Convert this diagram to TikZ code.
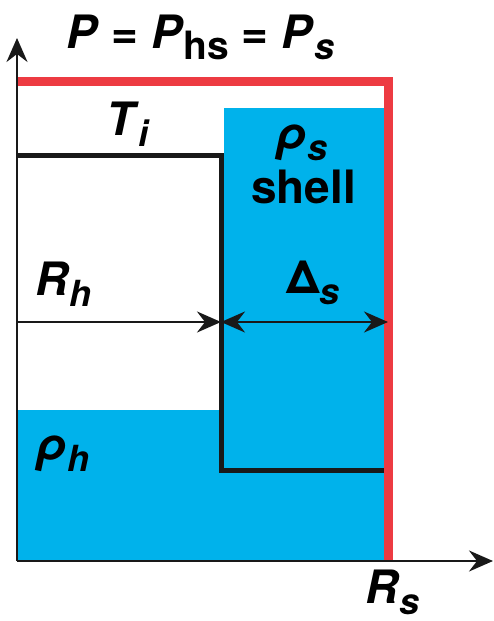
\documentclass[tikz,border=0pt]{standalone}
\usepackage{fontspec}
\setmainfont{TeX Gyre Heros}
\usetikzlibrary{arrows.meta, positioning}
\definecolor{shellblue}{RGB}{0,178,235}
\definecolor{surfred}{RGB}{237,59,66}
\newcommand{\vb}[1]{\textbf{\textit{#1}}}
\newcommand{\vsub}[1]{\raisebox{-0.25em}{\fontsize{36}{36}\selectfont #1}}

\begin{document}
\begin{tikzpicture}[x=1pt, y=-1pt, >={Stealth[length=24pt, width=21pt, inset=8pt]},
        lbl/.style={font=\fontsize{46}{46}\selectfont\bfseries, inner sep=0pt, anchor=base west},
        prof/.style={draw=black!90, line width=5pt},
        axis/.style={draw=black!90, line width=2.5pt},
        dim/.style={draw=black!90, line width=2.5pt}]
        \useasboundingbox (0,0) rectangle (494,621);

        \coordinate (o) at (17,561);
        \coordinate (ytop) at (17,38);
        \coordinate (xend) at (493,561);
        \coordinate (rh0) at (17,322);
        \coordinate (rh1) at (221,322);
        \coordinate (rs1) at (388,322);

        % densities
        \fill[shellblue] (224,108) rectangle (384,561);
        \fill[shellblue] (17,410) rectangle (224,561);

        % surface and temperature
        \draw[surfred, line width=9pt] (17,81) -- (388,81) -- (388,561);
        \draw[prof] (17,155) -| (221,470) -- (384,470);

        \draw[axis, ->] (o) -- (ytop);
        \draw[axis, ->] (o) -- (xend);
        \draw[dim, ->] (rh0) -- (rh1);
        \draw[dim, <->] (rh1) -- (rs1);

        \node (ttl) [lbl] at (66,48) {\vb{P} = \vb{P}\raisebox{-0.25em}{\fontsize{39}{39}\selectfont hs} = \vb{P}\vsub{\vb{s}}};
        \node (ti) [lbl] at (106,135) {\vb{T}\vsub{\vb{i}}};
        \node (rhos) [lbl] at (276,149) {\vb{ρ}\vsub{\vb{s}}};
        \node (shl) [lbl] at (251,203) {shell};
        \node (rh) [lbl] at (35,295) {\vb{R}\vsub{\vb{h}}};
        \node (dels) [lbl] at (286,293) {Δ\vsub{\vb{s}}};
        \node (rhoh) [lbl] at (36,460) {\vb{ρ}\vsub{\vb{h}}};
        \node (rs) [lbl] at (365,603) {\vb{R}\vsub{\vb{s}}};
    \end{tikzpicture}
\end{document}
